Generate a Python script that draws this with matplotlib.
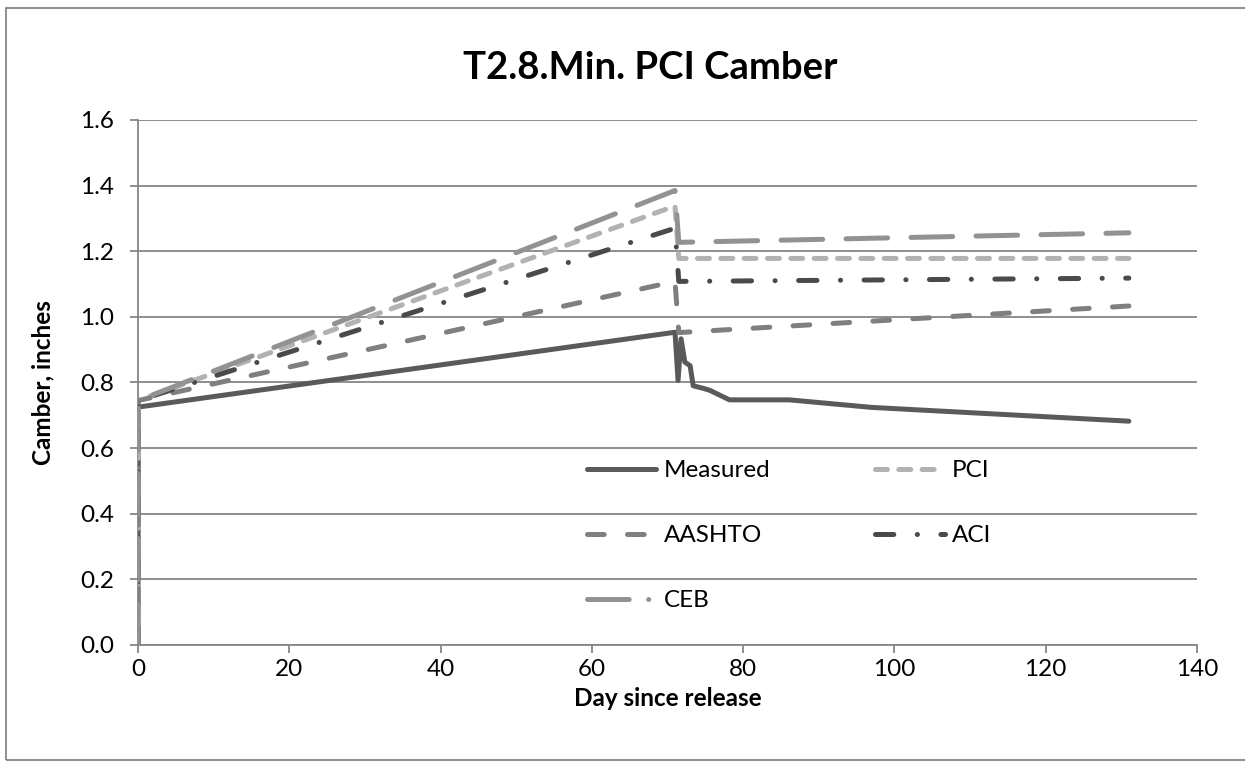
import matplotlib
matplotlib.use("Agg")
import matplotlib.pyplot as plt
from matplotlib.lines import Line2D
from matplotlib.patches import Rectangle

plt.rcParams['font.family'] = ['Lato', 'DejaVu Sans']
plt.rcParams['lines.scale_dashes'] = False

# data
days_meas = [0, 0.05, 71.0, 71.4, 71.8, 72.3, 73.0, 73.4, 74.9, 75.6, 78.2, 86.1, 97.0, 131.0]
measured = [0, 0.725, 0.953, 0.806, 0.933, 0.862, 0.851, 0.790, 0.781, 0.776, 0.747, 0.747, 0.724, 0.682]

days_model = [0, 0.05, 71.0, 71.5, 131.0]
pci = [0, 0.745, 1.338, 1.178, 1.178]
aashto = [0, 0.745, 1.108, 0.952, 1.033]
aci = [0, 0.745, 1.270, 1.108, 1.118]
ceb = [0, 0.745, 1.385, 1.227, 1.256]

xticks = [0, 20, 40, 60, 80, 100, 120, 140]
yticks = [0.0, 0.2, 0.4, 0.6, 0.8, 1.0, 1.2, 1.4, 1.6]

grid_c = '#868686'
lw = 3.6
fs = 17.5

fig = plt.figure(figsize=(12.45, 7.64), dpi=100)
ax = fig.add_axes([0.1108, 0.1558, 0.8506, 0.6872])

# outer chart frame
fig.patches.append(Rectangle((6 / 1245, 4 / 764), 1.0, 1 - 12 / 764, transform=fig.transFigure,
                             fill=False, edgecolor=grid_c, lw=1.3))

ax.plot(days_meas, measured, color='#5a5a5a', lw=lw, solid_capstyle='round',
        solid_joinstyle='round', label='Measured', zorder=3)
l_pci, = ax.plot(days_model, pci, color='#b2b2b2', lw=lw, dash_capstyle='round',
                 dashes=(8.6, 8.2), label='PCI', zorder=3)
l_aas, = ax.plot(days_model, aashto, color='#7f7f7f', lw=lw, dash_capstyle='round',
                 dashes=(12, 16.8), label='AASHTO', zorder=3)
l_aci, = ax.plot(days_model, aci, color='#4a4a4a', lw=lw, dash_capstyle='round',
                 dashes=(13.2, 16.9, 0.1, 16.9), label='ACI', zorder=3)
l_ceb, = ax.plot(days_model, ceb, color='#929292', lw=lw, dash_capstyle='round',
                 dashes=(30, 16.8), label='CEB', zorder=3)

ax.set_xlim(0, 140)
ax.set_ylim(0, 1.6)
ax.set_xticks(xticks)
ax.set_yticks(yticks)
ax.set_yticklabels(['%.1f' % v for v in yticks])
ax.grid(axis='y', color=grid_c, lw=1.3)
ax.set_axisbelow(True)
for s in ['top', 'right']:
    ax.spines[s].set_visible(False)
for s in ['left', 'bottom']:
    ax.spines[s].set_color(grid_c)
    ax.spines[s].set_linewidth(1.3)
ax.tick_params(axis='both', colors=grid_c, labelcolor='black', labelsize=fs,
               length=6, width=1.3, direction='out')
ax.tick_params(axis='y', pad=11)
ax.tick_params(axis='x', pad=4)

ax.set_xlabel('Day since release', fontsize=fs, fontweight='bold', labelpad=5)
ax.set_ylabel('Camber, inches', fontsize=fs, fontweight='bold', labelpad=19)
fig.text(0.522, 0.911, 'T2.8.Min. PCI Camber', ha='center', va='center',
         fontsize=27.5, fontweight='bold')

# legend, laid out row by row like the original
h_meas = Line2D([], [], color='#5a5a5a', lw=lw, solid_capstyle='round')
h_ceb = Line2D([], [], color='#929292', lw=lw, dash_capstyle='round', dashes=(30, 14, 0.1, 14))
handles = [h_meas, l_aas, h_ceb, l_pci, l_aci]
labels = ['Measured', 'AASHTO', 'CEB', 'PCI', 'ACI']
ax.legend(handles, labels, ncol=2, loc='upper left', bbox_to_anchor=(0.424, 0.352),
          frameon=False, fontsize=fs, handlelength=2.85, handletextpad=0.3,
          columnspacing=4.33, labelspacing=1.81, borderpad=0, borderaxespad=0)

plt.savefig('out.png', dpi=100)
